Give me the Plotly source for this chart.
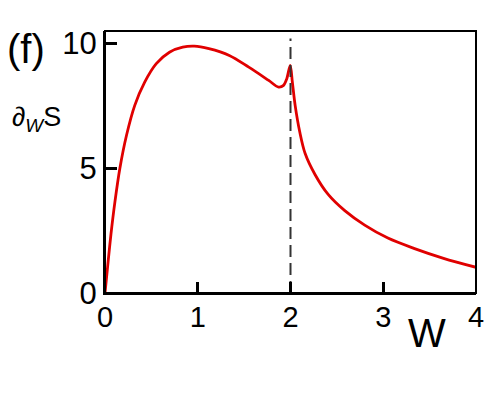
import plotly.graph_objects as go

# curve
w_vals = [0, 0.036, 0.064, 0.107, 0.16, 0.232, 0.321, 0.428, 0.553, 0.695,
          0.838, 0.963, 1.12, 1.34, 1.55, 1.765, 1.872, 1.925, 1.96, 1.997,
          2.02, 2.05, 2.10, 2.157, 2.264, 2.406, 2.585, 2.80, 3.05, 3.33,
          3.65, 4.0]
s_vals = [0, 1.35, 2.35, 3.65, 4.99, 6.32, 7.52, 8.45, 9.19, 9.65,
          9.85, 9.89, 9.79, 9.52, 9.05, 8.52, 8.25, 8.32, 8.59, 9.12,
          8.45, 7.52, 6.45, 5.60, 4.75, 3.95, 3.30, 2.72, 2.20, 1.79,
          1.39, 1.03]

x_ticks = [0, 1, 2, 3, 4]
y_ticks = [0, 5, 10]
w_crit = 2

font = "Liberation Sans, Arial, sans-serif"

# the page body adds an 8px margin, so the figure is a bit smaller
body = 8
fig_w, fig_h = 488, 388
ml, mr, mt, mb = 97, 17, 23, 103
pw, ph = fig_w - ml - mr, fig_h - mt - mb


def paper_xy(px, py):
    return (px - body - ml) / pw, 1 - (py - body - mt) / ph


fig = go.Figure()

fig.add_trace(go.Scatter(
    x=w_vals, y=s_vals, mode='lines',
    line=dict(color='#e00000', width=2.8, shape='spline', smoothing=0.9),
    showlegend=False
))

fig.add_trace(go.Scatter(
    x=[w_crit, w_crit], y=[0, 10.2], mode='lines',
    line=dict(color='#333333', width=2, dash='12px,6px'),
    showlegend=False
))

fig.update_xaxes(
    range=[0, 4], tickvals=x_ticks, ticks='inside', ticklen=11, tickwidth=2.5,
    tickcolor='black', showline=True, linecolor='black', linewidth=2,
    showgrid=False, zeroline=False, ticklabelstandoff=-3,
    tickfont=dict(family=font, size=29, color='black')
)
fig.update_yaxes(
    range=[0, 10.5], tickvals=y_ticks, ticks='inside', ticklen=12, tickwidth=2.5,
    tickcolor='black', showline=True, linecolor='black', linewidth=2,
    showgrid=False, zeroline=False,
    tickfont=dict(family=font, size=31, color='black')
)

# frame
fig.add_shape(type='rect', xref='paper', yref='paper', x0=0, x1=1, y0=0, y1=1,
              line=dict(color='black', width=2))

labels = [
    ('(f)', 25, 49, 40),
    ('∂<sub><i>W</i></sub>S', 36, 119, 27),
    ('W', 430, 333, 40),
]
for txt, px, py, size in labels:
    ax, ay = paper_xy(px, py)
    fig.add_annotation(text=txt, x=ax, y=ay, xref='paper', yref='paper',
                       xanchor='center', yanchor='middle', showarrow=False,
                       font=dict(family=font, size=size, color='black'))

fig.update_layout(
    width=fig_w, height=fig_h,
    margin=dict(l=ml, r=mr, t=mt, b=mb),
    paper_bgcolor='white', plot_bgcolor='white'
)

fig.write_html("out.html")
